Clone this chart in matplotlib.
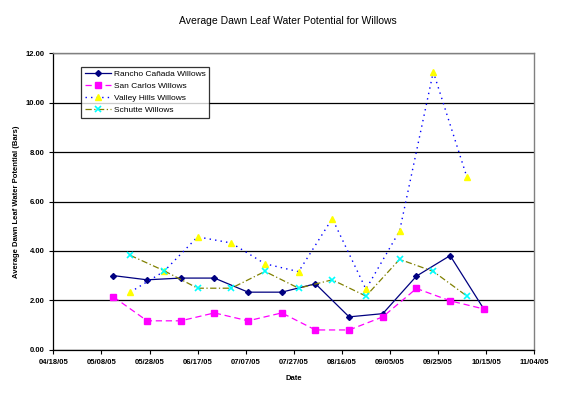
import numpy as np
import pandas as pd
import matplotlib
matplotlib.use('Agg')
import matplotlib.pyplot as plt
import matplotlib.dates as mdates

plt.rcParams['font.family'] = ['Liberation Sans', 'DejaVu Sans']

# sample dates (every 2 weeks, two sets of sites offset by a week)
dates_a = pd.to_datetime(['2005-05-13', '2005-05-27', '2005-06-10', '2005-06-24',
                          '2005-07-08', '2005-07-22', '2005-08-05', '2005-08-19',
                          '2005-09-02', '2005-09-16', '2005-09-30', '2005-10-14'])
dates_b = pd.to_datetime(['2005-05-20', '2005-06-03', '2005-06-17', '2005-07-01',
                          '2005-07-15', '2005-07-29', '2005-08-12', '2005-08-26',
                          '2005-09-09', '2005-09-23', '2005-10-07'])

rancho = [3.00, 2.83, 2.90, 2.90, 2.33, 2.33, 2.67, 1.33, 1.46, 2.98, 3.81, 1.65]
san_carlos = [2.14, 1.17, 1.17, 1.49, 1.17, 1.49, 0.80, 0.80, 1.33, 2.48, 1.98, 1.65]
valley_hills = [2.33, 3.17, 4.57, 4.32, 3.48, 3.16, 5.31, 2.45, 4.81, 11.25, 6.98]
schutte = [3.82, 3.20, 2.49, 2.49, 3.17, 2.49, 2.83, 2.17, 3.66, 3.17, 2.17]

tick_dates = pd.date_range('2005-04-18', '2005-11-04', freq='20D')

fig = plt.figure(figsize=(5.75, 3.94), dpi=100)
ax = fig.add_axes([0.0927, 0.1124, 0.8365, 0.7523])

ax.plot(dates_a, rancho, color='#000080', lw=0.9, ls='-', marker='D', ms=3,
        label='Rancho Cañada Willows')
ax.plot(dates_a, san_carlos, color='#ff00ff', lw=0.9, ls=(0, (5, 3)), marker='s', ms=5,
        label='San Carlos Willows')
ax.plot(dates_b, valley_hills, color='#0000ff', lw=1.0, ls=(0, (1, 3)), marker='^', ms=5,
        mfc='#ffff00', mec='#ffff00', label='Valley Hills Willows')
ax.plot(dates_b, schutte, color='#808000', lw=0.9, ls=(0, (5, 2, 1, 2)), marker='x', ms=4,
        mec='#00ffff', mew=1.2, label='Schutte Willows')

ax.set_xlim(tick_dates[0], tick_dates[-1])
ax.set_ylim(0, 12)
ax.set_xticks(tick_dates)
ax.xaxis.set_major_formatter(mdates.DateFormatter('%m/%d/%y'))
ax.set_yticks(np.arange(0, 12.1, 2))
ax.yaxis.set_major_formatter(matplotlib.ticker.FormatStrFormatter('%.2f'))
ax.tick_params(labelsize=5.5, length=3, width=0.8, direction='out')
for lbl in ax.get_xticklabels() + ax.get_yticklabels():
  lbl.set_fontweight('bold')

ax.grid(True, axis='y', color='black', lw=0.9)
ax.set_axisbelow(True)
for side in ['top', 'right']:
  ax.spines[side].set_color('#808080')
  ax.spines[side].set_linewidth(1.0)
for side in ['left', 'bottom']:
  ax.spines[side].set_color('black')
  ax.spines[side].set_linewidth(0.9)

fig.text(0.5, 0.947, 'Average Dawn Leaf Water Potential for Willows',
         ha='center', va='center', fontsize=7.5)
ax.set_xlabel('Date', fontsize=5.5, fontweight='bold', labelpad=7)
ax.set_ylabel('Average Dawn Leaf Water Potential (Bars)', fontsize=5.5,
              fontweight='bold', labelpad=4)

leg = ax.legend(loc='upper left', bbox_to_anchor=(0.058, 0.953), fontsize=6,
                frameon=True, fancybox=False, edgecolor='black', borderpad=0.4,
                borderaxespad=0, labelspacing=0.5, handlelength=3.2, handletextpad=0.3)
leg.get_frame().set_linewidth(0.9)

plt.savefig('out.png', dpi=100)
plt.close()
